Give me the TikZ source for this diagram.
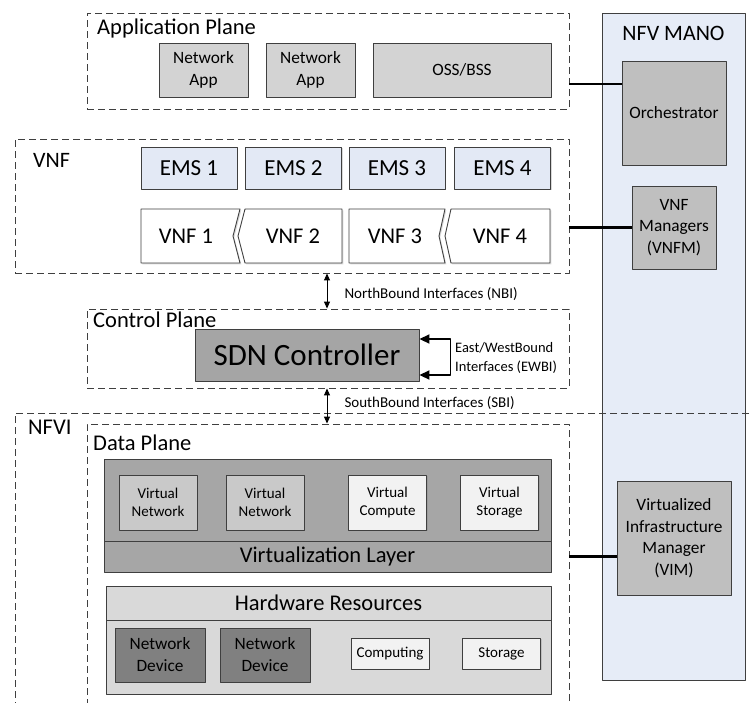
\documentclass[tikz,border=0pt]{standalone}
\usepackage{fontspec}
\setmainfont{Carlito}
\usetikzlibrary{arrows.meta,shadows}
\definecolor{edge}{HTML}{3F3F3F}
\definecolor{appgray}{HTML}{D3D3D3}
\definecolor{emsblue}{HTML}{E3E9F5}
\definecolor{manoblue}{HTML}{E6ECF7}
\definecolor{mgrgray}{HTML}{BFBFBF}
\definecolor{sdngray}{HTML}{A5A5A5}
\definecolor{poolgray}{HTML}{A6A6A6}
\definecolor{vngray}{HTML}{C9C9C9}
\definecolor{lightbox}{HTML}{F2F2F2}
\definecolor{hwgray}{HTML}{D9D9D9}
\definecolor{devgray}{HTML}{808080}
\newcommand\fsz[2]{\fontsize{#1}{#2}\selectfont}
\begin{document}
\begin{tikzpicture}[x=1pt, y=-1pt, line join=round,
    plane/.style={draw=edge, line width=0.9pt, dash pattern=on 7pt off 4pt, inner sep=0pt},
    title/.style={inner sep=0pt, font=\fsz{22.5}{27}},
    dropsh/.style={drop shadow={shadow xshift=1.3pt, shadow yshift=-1.3pt, opacity=0.3}},
    box/.style={draw=edge, line width=0.9pt, inner sep=0pt, align=center},
    appbox/.style={box, dropsh, fill=appgray, minimum height=54pt, font=\fsz{17.3}{22}},
    ems/.style={box, dropsh, fill=emsblue, minimum width=96pt, minimum height=42pt, font=\fsz{23}{27}},
    vnfbox/.style={draw=edge, line width=0.9pt, fill=white, dropsh},
    mgr/.style={box, fill=mgrgray, font=\fsz{17.3}{21.5}},
    layer/.style={box, dropsh, fill=poolgray, minimum width=447pt, font=\fsz{22.5}{27}},
    vbox/.style={box, dropsh, minimum width=78pt, minimum height=55pt, font=\fsz{15}{18}},
    link/.style={line width=2.6pt},
    bus/.style={line width=1pt, {Triangle[length=7pt,width=6pt]}-{Triangle[length=7pt,width=6pt]}},
    busl/.style={anchor=west, inner sep=0pt, xshift=17pt, font=\fsz{15}{18}}]
\useasboundingbox (0,0) rectangle (751,702);
\clip (0,0) rectangle (751,702);

% NFV MANO
\node[box, fill=manoblue, minimum width=143pt, minimum height=667pt] (mano) at (673.5,346.5) {};
\node[title, anchor=base, font=\fsz{22}{26}] (manotitle) at (673.5,40) {NFV MANO};
\node[mgr, minimum width=104pt, minimum height=104pt] (orch) at (674,113) {Orchestrator};
\node[mgr, minimum width=84pt, minimum height=83pt] (vnfm) at (674,227.5) {VNF\\Managers\\(VNFM)};
\node[mgr, minimum width=114pt, minimum height=114pt] (vim) at (674,538) {Virtualized\\Infrastructure\\Manager\\(VIM)};

% Application Plane
\node[plane, minimum width=482pt, minimum height=96pt] (appplane) at (328,61) {};
\node[title, anchor=base west] (apptitle) at (97,34) {Application Plane};
\node[appbox, minimum width=89pt] (app1) at (203.5,70) {Network\\App};
\node[appbox, minimum width=89pt] (app2) at (310.5,70) {Network\\App};
\node[appbox, minimum width=178pt] (oss) at (462,70) {OSS/BSS};

% VNF
\node[plane, minimum width=554pt, minimum height=134pt] (vnfplane) at (292,206) {};
\node[title, anchor=base west, font=\fsz{22}{26}] (vnftitle) at (33,167) {VNF};
\foreach \n/\x in {1/189, 2/293.5, 3/397, 4/502.5}
    \node[ems] (ems\n) at (\x,168) {EMS \n};
\draw[vnfbox] (141,209) -- (240,209) -- (233,236) -- (240,263) -- (141,263) -- cycle;
\draw[vnfbox] (245,209) -- (342,209) -- (342,263) -- (245,263) -- (238,236) -- cycle;
\draw[vnfbox] (349,209) -- (445,209) -- (439,236) -- (445,263) -- (349,263) -- cycle;
\draw[vnfbox] (451,209) -- (550,209) -- (550,263) -- (451,263) -- (445,236) -- cycle;
\foreach \n/\x in {1/186, 2/293, 3/395, 4/500}
    \node[font=\fsz{22.5}{26}] (vnf\n) at (\x,236) {VNF \n};

% Control Plane
\node[plane, minimum width=482pt, minimum height=79pt] (ctrlplane) at (328,348.5) {};
\node[title, anchor=base west] (ctrltitle) at (93,327) {Control Plane};
\node[box, dropsh, fill=sdngray, minimum width=224pt, minimum height=52pt, font=\fsz{31}{36}] (sdn) at (307,355) {SDN Controller};
\draw[line width=1.8pt, {Triangle[length=10pt,width=9pt]}-{Triangle[length=10pt,width=9pt]}]
    ([yshift=16pt]sdn.east) -- ++(31,0) -- ++(0,36) -- ++(-31,0);
\node[anchor=west, inner sep=0pt, align=left, font=\fsz{14.5}{19}] (ewbi) at (455,357.5) {East/WestBound\\Interfaces (EWBI)};

% NFVI / Data Plane
\draw[plane] (760,413) -| (15,712);
\node[title, anchor=base west] (nfvititle) at (28,434) {NFVI};
\node[plane, minimum width=482pt, minimum height=290pt] (dataplane) at (328,569) {};
\node[title, anchor=base west] (datatitle) at (93,450) {Data Plane};
\node[layer, minimum height=82pt] (vpool) at (327.5,500) {};
\node[layer, minimum height=31pt] (vlayer) at (327.5,556.5) {Virtualization Layer};
\foreach \n/\x/\c/\t in {1/158/vngray/Network, 2/265/vngray/Network, 3/387.5/lightbox/Compute, 4/499.5/lightbox/Storage}
    \node[vbox, fill=\c] (virt\n) at (\x,502.5) {Virtual\\\t};
\node[layer, fill=hwgray, minimum width=445pt, minimum height=34pt] (hwhead) at (328.5,603) {Hardware Resources};
\node[layer, fill=hwgray, minimum width=445pt, minimum height=74pt] (hwpool) at (328.5,657) {};
\node[box, dropsh, fill=devgray, minimum width=90pt, minimum height=54pt, font=\fsz{17.3}{22}] (dev1) at (160,655) {Network\\Device};
\node[box, dropsh, fill=devgray, minimum width=90pt, minimum height=54pt, font=\fsz{17.3}{22}] (dev2) at (265,655) {Network\\Device};
\node[vbox, fill=lightbox, minimum height=31pt] (comp) at (390,653.5) {Computing};
\node[vbox, fill=lightbox, minimum height=31pt] (stor) at (501.5,653.5) {Storage};

% interfaces
\draw[bus] (vnfplane.south -| 327,0) -- node[busl, pos=0.6] (nbi) {NorthBound Interfaces (NBI)} (ctrlplane.north -| 327,0);
\draw[bus] (ctrlplane.south -| 327,0) -- node[busl, pos=0.42] (sbi) {SouthBound Interfaces (SBI)} (dataplane.north -| 327,0);
\draw[link] ([yshift=-23pt]appplane.east) -- ([yshift=-23pt]appplane.east -| orch.west);
\draw[link] (vnfplane.east |- vnfm) -- (vnfm.west);
\draw[link] (dataplane.east |- vlayer) -- (vim.west |- vlayer);
\end{tikzpicture}
\end{document}
